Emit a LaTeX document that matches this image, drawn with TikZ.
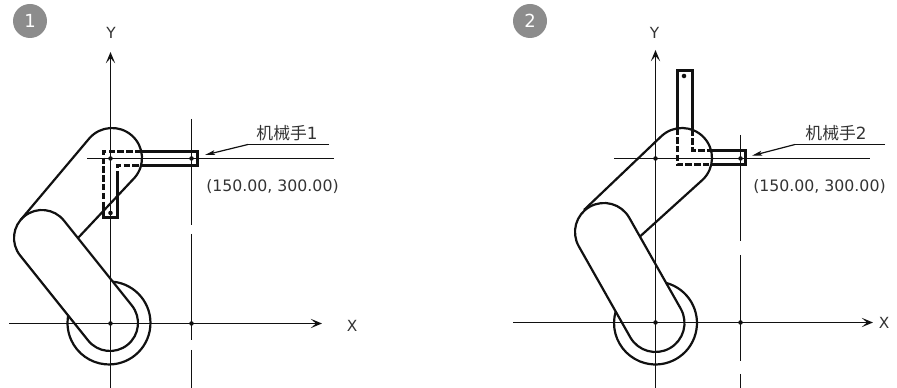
\documentclass[tikz,border=0pt]{standalone}
\usepackage{fontspec}
\setmainfont{DejaVu Sans}
\newfontfamily\cjkfont{Noto Sans CJK SC}
\usetikzlibrary{arrows.meta,calc}
\definecolor{ink}{HTML}{111111}
\definecolor{txt}{HTML}{333333}
\definecolor{badge}{HTML}{8C8C8C}
\tikzset{
  x=0.75pt,y=0.75pt,
  link/.style={draw=ink,line width=1.65pt,line join=round},
  toolline/.style={draw=ink,line width=1.8pt,line join=miter},
  tooldash/.style={draw=ink,line width=1.8pt,dash pattern=on 4.8pt off 1.8pt},
  axisline/.style={draw=ink,line width=1.25pt,-{Stealth[length=8.5pt,width=7pt,inset=4pt]}},
  thinline/.style={draw=ink,line width=1pt},
  leader/.style={draw=ink,line width=0.9pt},
  leaderarrow/.style={draw=ink,line width=0.9pt,-{Stealth[length=7.5pt,width=3.6pt,inset=1.5pt]}},
  dotmark/.style={circle,fill=ink,inner sep=0pt,minimum size=3.4pt},
  axislabel/.style={text=txt,font=\fontsize{11.5}{12}\selectfont,inner sep=0pt},
  handlabel/.style={text=txt,font=\fontsize{12.6}{14}\selectfont,inner sep=0pt},
  coordlabel/.style={text=txt,font=\fontsize{11.8}{14}\selectfont,inner sep=0pt},
  badgenode/.style={circle,fill=badge,text=white,inner sep=0pt,minimum size=25.5pt,font=\fontsize{13.5}{14}\selectfont},
}
\begin{document}
\begin{tikzpicture}
\useasboundingbox (0,0) rectangle (897,388);
%% ---------- diagram 1
\node[badgenode] (b1) at (30,367) {1};
\coordinate (ya) at (110.5,0); \coordinate (yb) at (110.5,336);
\coordinate (xa) at (9,64.5); \coordinate (xb) at (322,64.5);
\node[axislabel] (ly) at (111,355) {Y};
\node[axislabel] (lx) at (352,62) {X};
\draw[axisline] (ya) -- (yb);
\draw[axisline] (xa) -- (xb);
\coordinate (ha) at (87,229.5); \coordinate (hb) at (334,229.5);
\draw[thinline] (ha) -- (hb);
\draw[thinline] (191.5,269) -- (191.5,163);
\draw[thinline] (191.5,154) -- (191.5,48);
\draw[thinline] (191.5,38) -- (191.5,0);
\coordinate (C) at (110,65);
\coordinate (C0) at (109,65);
\coordinate (E) at (42,150);
\coordinate (H) at (112,230);
% base circle
\draw[link] ([shift={(84.5:31.1pt)}]C0) arc[start angle=84.5,end angle=-190,radius=31.1pt];
% lower link
\draw[link] ([shift={(38.7:21pt)}]C) arc[start angle=38.7,end angle=-141.3,radius=21pt]
  -- ([shift={(-141.3:21pt)}]E) arc[start angle=-141.3,end angle=-321.3,radius=21pt] -- cycle;
% upper link
\draw[link] (21,168.5) -- ([shift={(138.8:22.5pt)}]H) arc[start angle=138.8,end angle=-41.2,radius=22.5pt] -- (78,150);
% tool
\draw[toolline] (141.4,236.5) -- (197.5,236.5) -- (197.5,222.5) -- (141,222.5);
\draw[tooldash] (141.4,236.5) -- (103.5,236.5) -- (103.5,180);
\draw[toolline] (103.5,180) -- (103.5,170.5) -- (117.5,170.5) -- (117.5,211);
\draw[tooldash] (117.5,211) -- (117.5,222.5) -- (141,222.5);
% dots
\node[dotmark] (d1) at (110.5,229.5) {};
\node[dotmark] (d2) at (191.5,229.5) {};
\node[dotmark] (d3) at (110.5,64.5) {};
\node[dotmark] (d4) at (191.5,64.5) {};
\node[dotmark] (d5) at (110.5,175) {};
% labels
\node[handlabel] (m1) at (287,255) {{\cjkfont 机械手}1};
\node[coordlabel] (c1) at (272.5,201) {(150.00, 300.00)};
\coordinate (la) at (329,243.5); \coordinate (lb) at (248,243.5); \coordinate (lc) at (205,233);
\draw[leader] (la) -- (lb);
\draw[leaderarrow] (lb) -- (lc);
%% ---------- diagram 2
\node[badgenode] (b2) at (530,367) {2};
\coordinate (yc) at (655.5,0); \coordinate (yd) at (655.5,338);
\coordinate (xc) at (513,65.5); \coordinate (xd) at (873,65.5);
\node[axislabel] (ly2) at (654.5,355) {Y};
\node[axislabel] (lx2) at (884,65) {X};
\draw[axisline] (yc) -- (yd);
\draw[axisline] (xc) -- (xd);
\coordinate (hc) at (614,229.5); \coordinate (hd) at (870,229.5);
\draw[thinline] (hc) -- (hd);
\draw[thinline] (740.5,253) -- (740.5,147.3);
\draw[thinline] (740.5,133) -- (740.5,27.3);
\draw[thinline] (740.5,14) -- (740.5,0);
\coordinate (C2) at (655.5,65);
\coordinate (E2) at (604,156);
\coordinate (H2) at (682,230);
\draw[link] ([shift={(75.2:31.1pt)}]C2) arc[start angle=75.2,end angle=-196.2,radius=31.1pt];
\draw[link] ([shift={(29.5:21.75pt)}]C2) arc[start angle=29.5,end angle=-150.5,radius=21.75pt]
  -- ([shift={(-150.5:21.75pt)}]E2) arc[start angle=-150.5,end angle=-330.5,radius=21.75pt] -- cycle;
\draw[link] (584,178) -- ([shift={(133.5:22.5pt)}]H2) arc[start angle=133.5,end angle=-46.5,radius=22.5pt] -- (640,151.5);
% tool
\draw[toolline] (677.5,259.6) -- (677.5,317.5) -- (692.5,317.5) -- (692.5,258.3);
\draw[toolline] (711.2,237.5) -- (745.5,237.5) -- (745.5,223.5) -- (711.2,223.5);
\draw[tooldash] (677.5,259.6) -- (677.5,223.5) -- (711.2,223.5);
\draw[tooldash] (692.5,258.3) -- (692.5,237.5) -- (711.2,237.5);
\node[dotmark] (e1) at (655.5,229.5) {};
\node[dotmark] (e2) at (740.5,229.5) {};
\node[dotmark] (e3) at (655.5,65.5) {};
\node[dotmark] (e4) at (740.5,65.5) {};
\node[dotmark] (e5) at (684,312) {};
\node[handlabel] (m2) at (836,255) {{\cjkfont 机械手}2};
\node[coordlabel] (c2) at (819.5,201) {(150.00, 300.00)};
\coordinate (ld) at (885,243.5); \coordinate (le) at (795,243.5); \coordinate (lf) at (752,232.3);
\draw[leader] (ld) -- (le);
\draw[leaderarrow] (le) -- (lf);
\end{tikzpicture}
\end{document}
